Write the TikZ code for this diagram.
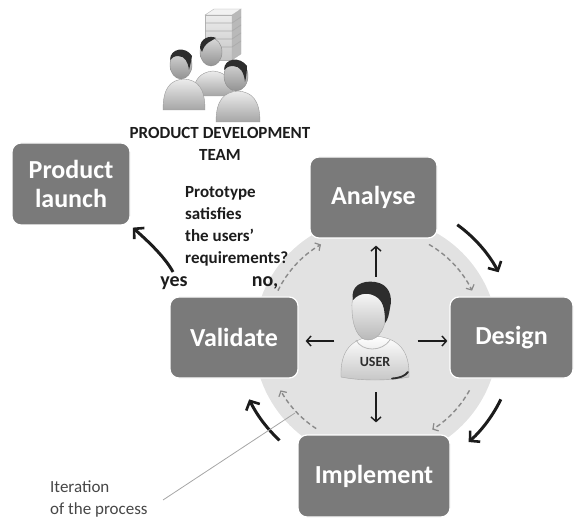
\documentclass[tikz,border=0pt]{standalone}
\usepackage{fontspec}
\setmainfont{Carlito}
\usetikzlibrary{arrows.meta,calc}

\definecolor{boxgray}{RGB}{122,122,122}
\definecolor{diskgray}{RGB}{226,226,226}
\definecolor{dashgray}{RGB}{138,138,138}
\definecolor{ink}{RGB}{28,28,28}
\definecolor{notegray}{RGB}{70,70,70}
\definecolor{hair}{RGB}{45,45,45}

\tikzset{
  stage/.style={rounded corners=9pt, fill=boxgray, draw=white, line width=1.2pt,
    text=white, font=\bfseries\fontsize{26}{29}\selectfont, align=center, inner sep=0pt},
  cyclearrow/.style={draw=ink, line width=3pt,
    -{Straight Barb[length=7pt,width=15pt,line width=2.6pt]}},
  looparrow/.style={draw=dashgray, line width=1.4pt, dash pattern=on 4.5pt off 3pt,
    -{Straight Barb[length=4pt,width=9pt,line width=1.2pt]}},
  probe/.style={draw=ink, line width=1.5pt,
    -{Straight Barb[length=4.5pt,width=10pt,line width=1.4pt]}},
  label/.style={text=ink, font=\bfseries\fontsize{17}{22}\selectfont, inner sep=0pt},
  answer/.style={text=ink, font=\bfseries\fontsize{20}{22}\selectfont, inner sep=0pt},
  note/.style={text=notegray, font=\fontsize{17}{22}\selectfont, inner sep=0pt, align=left},
  skin/.style={top color=white, bottom color=gray!55, draw=gray!70, line width=0.4pt},
  cloth/.style={top color=white, bottom color=gray!45, draw=gray!70, line width=0.4pt},
  darkskin/.style={top color=gray!30, bottom color=gray!85, draw=gray!90, line width=0.4pt},
  darkcloth/.style={top color=gray!15, bottom color=gray!70, draw=gray!80, line width=0.4pt},
}

\begin{document}
\begin{tikzpicture}[x=1pt,y=-1pt]
\useasboundingbox (0,0) rectangle (575,518);

% light disk behind the cycle
\fill[diskgray] (376,339) circle[radius=122];
\coordinate (hub) at (375,338);

% stages of the cycle
\node[stage, minimum width=127pt, minimum height=81pt] (analyse)   at (373.5,197.5) {Analyse};
\node[stage, minimum width=123pt, minimum height=81pt] (design)    at (511.5,337.5) {Design};
\node[stage, minimum width=152pt, minimum height=82pt] (implement) at (374,476)     {Implement};
\node[stage, minimum width=128pt, minimum height=81pt] (validate)  at (234,337.5)   {Validate};
\node[stage, minimum width=118pt, minimum height=82pt] (launch)    at (71,184)      {Product\\launch};

% inner dashed iteration arcs
\draw[looparrow] ($(hub)+(206:108)$) arc[start angle=206, end angle=240, radius=108];
\draw[looparrow] ($(hub)+(300:108)$) arc[start angle=300, end angle=334, radius=108];
\draw[looparrow] ($(hub)+(29:108)$)  arc[start angle=29,  end angle=58,  radius=108];
\draw[looparrow] ($(hub)+(123:108)$) arc[start angle=123, end angle=151, radius=108];

% outer cycle arrows
\draw[cyclearrow] ($(hub)+(306:140)$) arc[start angle=306, end angle=332, radius=140];
\draw[cyclearrow] ($(hub)+(26:140)$)  arc[start angle=26,  end angle=48,  radius=140];
\draw[cyclearrow] ($(hub)+(133:140)$) arc[start angle=133, end angle=154, radius=140];

% validated prototype goes to launch
\coordinate (yesfoot) at (173,272);
\draw[cyclearrow, shorten >=3pt]
  (yesfoot) .. controls (164,255) and (142,236) .. (launch.south east);

% the user at the centre
\node[minimum width=83pt, minimum height=128pt, inner sep=0pt] (user) at (376,341) {};
% shirt
\path[cloth] (341,377) .. controls (340,350) and (352,338) .. (375,336)
  .. controls (398,338) and (410,350) .. (409,377)
  .. controls (390,381) and (360,381) .. cycle;
\draw[hair, line width=1.8pt, line cap=round] (392,378.5) .. controls (400,378) and (405,376) .. (408,372);
\draw[gray!55, line width=0.8pt] (356,340) .. controls (362,352) and (382,352) .. (390,340);
% face
\path[skin] (352,308) .. controls (351,292) and (360,286) .. (370,286)
  .. controls (382,286) and (388,295) .. (387,310)
  .. controls (386,326) and (380,340) .. (368,340)
  .. controls (358,340) and (352,326) .. cycle;
% hair
\fill[hair] (353,300) .. controls (350,286) and (362,280) .. (375,282)
  .. controls (389,284) and (393,296) .. (390,308)
  .. controls (389,314) and (388,320) .. (385,323)
  .. controls (385,312) and (384,303) .. (378,298)
  .. controls (370,292) and (360,292) .. cycle;
\node[text=hair, font=\bfseries\fontsize{14}{14}\selectfont, inner sep=0pt] (usertag) at (375,362) {USER};

% arrows from the user to the stages
\draw[probe, shorten >=7pt] (user.north) -- (user.north |- analyse.south);
\draw[probe, shorten <=-13pt, shorten >=12pt] (user.south) -- (user.south |- implement.north);
\draw[probe, shorten >=7pt] (user.west) -- (user.west -| validate.east);
\draw[probe, shorten >=2pt] (user.east) -- (user.east -| design.west);

% product development team
\begin{scope}
  % server tower
  \path[top color=gray!15, bottom color=gray!45, draw=gray!60, line width=0.4pt]
    (205,15) -- (232,15) -- (232,60) -- (205,60) -- cycle;
  \path[fill=gray!55, draw=gray!60, line width=0.4pt]
    (232,15) -- (241,9) -- (241,54) -- (232,60) -- cycle;
  \path[fill=gray!10, draw=gray!60, line width=0.4pt]
    (205,15) -- (214,9) -- (241,9) -- (232,15) -- cycle;
  \foreach \yy in {23,31,39,47}
    \draw[gray!65, line width=0.8pt] (205,\yy) -- (232,\yy) -- (241,\yy-6);
  % person behind
  \path[darkcloth] (193,96) .. controls (193,78) and (202,72) .. (213,71)
    .. controls (224,72) and (233,78) .. (233,96) -- cycle;
  \path[darkskin] (211,52) ellipse[x radius=11, y radius=14];
  \fill[hair] (200,48) .. controls (200,38) and (210,35) .. (216,38)
    .. controls (212,41) and (205,42) .. (202,52) -- cycle;
  % person on the left
  \path[darkcloth] (163,110) .. controls (163,88) and (170,80) .. (184,79)
    .. controls (198,80) and (205,88) .. (205,110) -- cycle;
  \path[darkskin] (181,65) ellipse[x radius=11, y radius=14];
  \fill[hair] (170,60) .. controls (170,48) and (186,46) .. (192,56)
    .. controls (191,62) and (190,66) .. (189,70)
    .. controls (188,62) and (185,56) .. (178,56)
    .. controls (174,56) and (172,58) .. cycle;
  % person on the right
  \path[darkcloth] (216,122) .. controls (216,100) and (224,92) .. (238,91)
    .. controls (252,92) and (260,100) .. (260,122) -- cycle;
  \path[darkskin] (236,76) ellipse[x radius=12, y radius=15];
  \fill[hair] (224,70) .. controls (224,58) and (240,56) .. (247,66)
    .. controls (247,72) and (246,78) .. (245,82)
    .. controls (244,72) and (240,66) .. (233,66)
    .. controls (228,66) and (226,68) .. cycle;
\end{scope}
\node[label, align=center] (team) at (220,143.5) {PRODUCT DEVELOPMENT\\TEAM};

% decision question and answers
\node[label, align=left, anchor=north west] (question) at (185,186)
  {Prototype\\satisfies\\the users’\\requirements?};
\node[answer] (yes) at (174,283) {yes};
\node[answer] (no)  at (265,283) {no,};

% annotation for the inner loop
\node[note, anchor=north west] (iteration) at (50,481) {Iteration\\of the process};
\coordinate (tagfoot) at (163,500);
\coordinate (tagtip) at (295,413);
\draw[gray!70, line width=0.8pt] (tagfoot) -- (tagtip);
\end{tikzpicture}
\end{document}
